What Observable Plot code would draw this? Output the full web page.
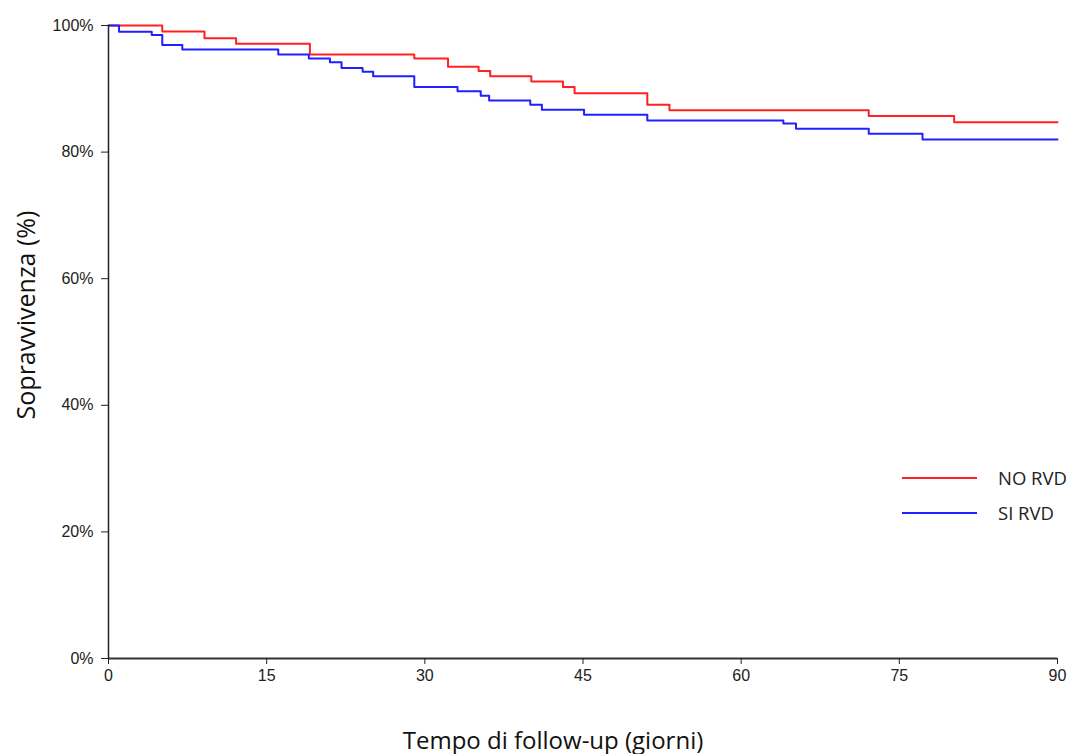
<!DOCTYPE html>
<html>
<head>
<meta charset="utf-8">
<script src="https://cdn.jsdelivr.net/npm/d3@7"></script>
<script src="https://cdn.jsdelivr.net/npm/@observablehq/plot@0.6"></script>
<style>
  html, body { margin: 0; padding: 0; background: #fff; }
  #wrap { position: relative; width: 1084px; height: 754px; }
  #legend { position: absolute; left: 902px; top: 460px; font-family: "Open Sans", sans-serif; font-size: 18.5px; color: #222; }
  #legend .row { display: flex; align-items: center; height: 35px; }
  #legend .sw { width: 75px; height: 2px; margin-right: 21px; }
  .title { position: absolute; font-family: "Open Sans", sans-serif; color: #111; white-space: nowrap; line-height: 1; }
  #xtitle { left: 553px; top: 740px; font-size: 24px; transform: translate(-50%, -50%); }
  #ytitle { left: 25px; top: 315px; font-size: 25px; transform: translate(-50%, -50%) rotate(-90deg); }
</style>
</head>
<body>
<div id="wrap">
  <div id="chart"></div>
  <div id="legend"></div>
  <div class="title" id="xtitle"></div>
  <div class="title" id="ytitle"></div>
</div>
<script>
// Kaplan–Meier survival estimates (days of follow-up, survival %)
const noRvdDays = [0, 5.1, 9.1, 12.1, 19.1, 29.0, 32.2, 35.1, 36.2, 40.1, 43.1, 44.2, 51.1, 53.2, 72.1, 80.2, 90];
const noRvdSurv = [100, 99.05, 98.0, 97.1, 95.4, 94.8, 93.5, 92.8, 92.0, 91.15, 90.3, 89.3, 87.5, 86.6, 85.7, 84.7, 84.7];

const siRvdDays = [0, 1.0, 4.1, 5.1, 7.0, 16.1, 19.0, 21.0, 22.1, 24.1, 25.1, 29.0, 33.1, 35.3, 36.1, 40.0, 41.1, 45.1, 51.1, 64.0, 65.2, 72.1, 77.2, 90];
const siRvdSurv = [100, 99.0, 98.5, 96.9, 96.2, 95.4, 94.8, 94.2, 93.3, 92.7, 92.0, 90.3, 89.6, 88.9, 88.15, 87.5, 86.7, 85.9, 85.0, 84.5, 83.7, 82.9, 82.0, 82.0];

const groups = ["NO RVD", "SI RVD"];
const groupColors = ["#ff2020", "#2020ff"];

const xTicks = [0, 15, 30, 45, 60, 75, 90];
const yTicks = [0, 20, 40, 60, 80, 100];

const xTitle = "Tempo di follow-up (giorni)";
const yTitle = "Sopravvivenza (%)";

const rows = [
  ...noRvdDays.map((d, i) => ({group: groups[0], day: d, surv: noRvdSurv[i]})),
  ...siRvdDays.map((d, i) => ({group: groups[1], day: d, surv: siRvdSurv[i]}))
];

const tickFont = "'Liberation Sans', Arial, sans-serif";

const chart = Plot.plot({
  width: 1084,
  height: 754,
  marginLeft: 108,
  marginRight: 27,
  marginTop: 25,
  marginBottom: 96,
  style: {background: "#fff", overflow: "visible"},
  x: {domain: [0, 90]},
  y: {domain: [0, 100]},
  color: {domain: groups, range: groupColors},
  marks: [
    Plot.line(rows, {
      x: "day", y: "surv", z: "group", stroke: "group",
      curve: "step-after", strokeWidth: 2
    }),
    Plot.ruleY([0], {stroke: "#333", strokeWidth: 2}),
    Plot.ruleX([0], {stroke: "#222", strokeWidth: 1.5}),
    Plot.axisX({
      ticks: xTicks, tickSize: 6, tickPadding: 5, label: null,
      tickFormat: d => String(d), fontSize: 16, fontFamily: tickFont, color: "#222"
    }),
    Plot.axisY({
      ticks: yTicks, tickSize: 7, tickPadding: 8, label: null,
      tickFormat: d => d + "%", fontSize: 16, fontFamily: tickFont, color: "#222"
    })
  ]
});

document.getElementById("chart").appendChild(chart);
d3.select("#xtitle").text(xTitle);
d3.select("#ytitle").text(yTitle);

// Legend drawn as HTML over the plot area
const legend = d3.select("#legend");
groups.forEach((g, i) => {
  const row = legend.append("div").attr("class", "row");
  row.append("div").attr("class", "sw").style("background", groupColors[i]);
  row.append("span").text(g);
});
</script>
</body>
</html>
